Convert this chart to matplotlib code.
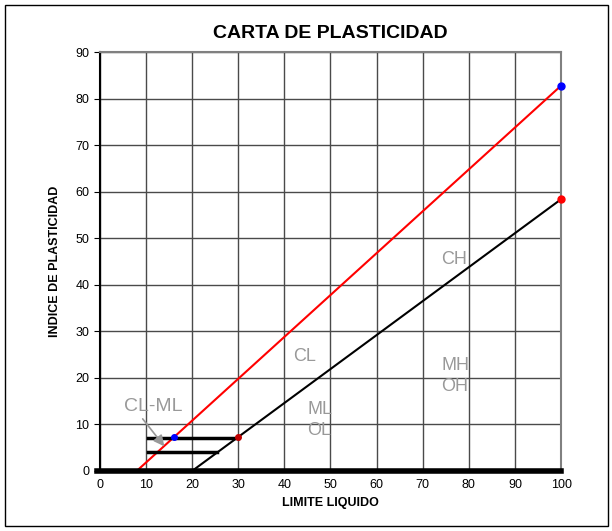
import matplotlib
matplotlib.use("Agg")
import matplotlib.pyplot as plt
from matplotlib.patches import Rectangle

plt.rcParams['font.family'] = ['Liberation Sans', 'DejaVu Sans']

# linea U y linea A
u_x = [8, 100]
u_y = [0, 82.8]
a_x = [20, 100]
a_y = [0, 58.4]
# zona CL-ML
h7_x = [10.5, 30]
h7_y = [7, 7]
h4_x = [10.5, 25.5]
h4_y = [4, 4]
base_x = [-0.5, 100]
base_y = [0, 0]

zonas = ["CH", "CL", "MH\nOH", "ML\nOL"]
zonas_x = [74, 42, 74, 45]
zonas_y = [45.5, 24.5, 20.5, 11]

fig = plt.figure(figsize=(6.12, 5.31), dpi=100)
ax = fig.add_axes([0.163, 0.113, 0.754, 0.789])
fig.patches.append(Rectangle((0.008, 0.01), 0.985, 0.98, transform=fig.transFigure,
                             fill=False, edgecolor='black', linewidth=1))

ax.plot(u_x, u_y, color='red', linewidth=1.5, zorder=3)
ax.plot(a_x, a_y, color='black', linewidth=1.5, zorder=3)
ax.plot(h7_x, h7_y, color='black', linewidth=2.5, zorder=3)
ax.plot(h4_x, h4_y, color='black', linewidth=2.5, zorder=3)
ax.plot(base_x, base_y, color='black', linewidth=4, zorder=4, clip_on=False)

ax.plot([u_x[1]], [u_y[1]], 'o', color='blue', markersize=5, zorder=5, clip_on=False)
ax.plot([a_x[1]], [a_y[1]], 'o', color='red', markersize=5, zorder=5, clip_on=False)
ax.plot([16], [7.2], 'o', color='blue', markersize=4, zorder=5)
ax.plot([30], [7.2], 'o', color='#c00000', markersize=4, zorder=5)

for t, x, y in zip(zonas, zonas_x, zonas_y):
    ax.text(x, y, t, color='#999999', fontsize=13, ha='left', va='center', linespacing=1.3)

ax.text(11.5, 13.8, "CL-ML", color='#999999', fontsize=14, ha='center', va='center')
ax.annotate("", xy=(14, 5.3), xytext=(9.3, 11.2),
            arrowprops=dict(arrowstyle='-|>', color='#999999', lw=1.2, mutation_scale=16,
                            shrinkA=0, shrinkB=0), zorder=6)

ax.set_xlim(0, 100)
ax.set_ylim(0, 90)
ax.set_xticks(range(0, 101, 10))
ax.set_yticks(range(0, 91, 10))
ax.grid(True, color='#4a4a4a', linewidth=1)
ax.set_axisbelow(True)
for s in ax.spines.values():
    s.set_color('#808080')
    s.set_linewidth(1.5)
ax.spines['left'].set_color('black')
ax.tick_params(axis='both', labelsize=9, length=4)
ax.tick_params(axis='x', length=0, pad=6)

ax.set_title("CARTA DE PLASTICIDAD", fontsize=14, fontweight='bold', pad=10)
ax.set_xlabel("LIMITE LIQUIDO", fontsize=9, fontweight='bold', labelpad=4)
ax.set_ylabel("INDICE DE PLASTICIDAD", fontsize=9, fontweight='bold', labelpad=10)

fig.savefig("out.png", dpi=100)
